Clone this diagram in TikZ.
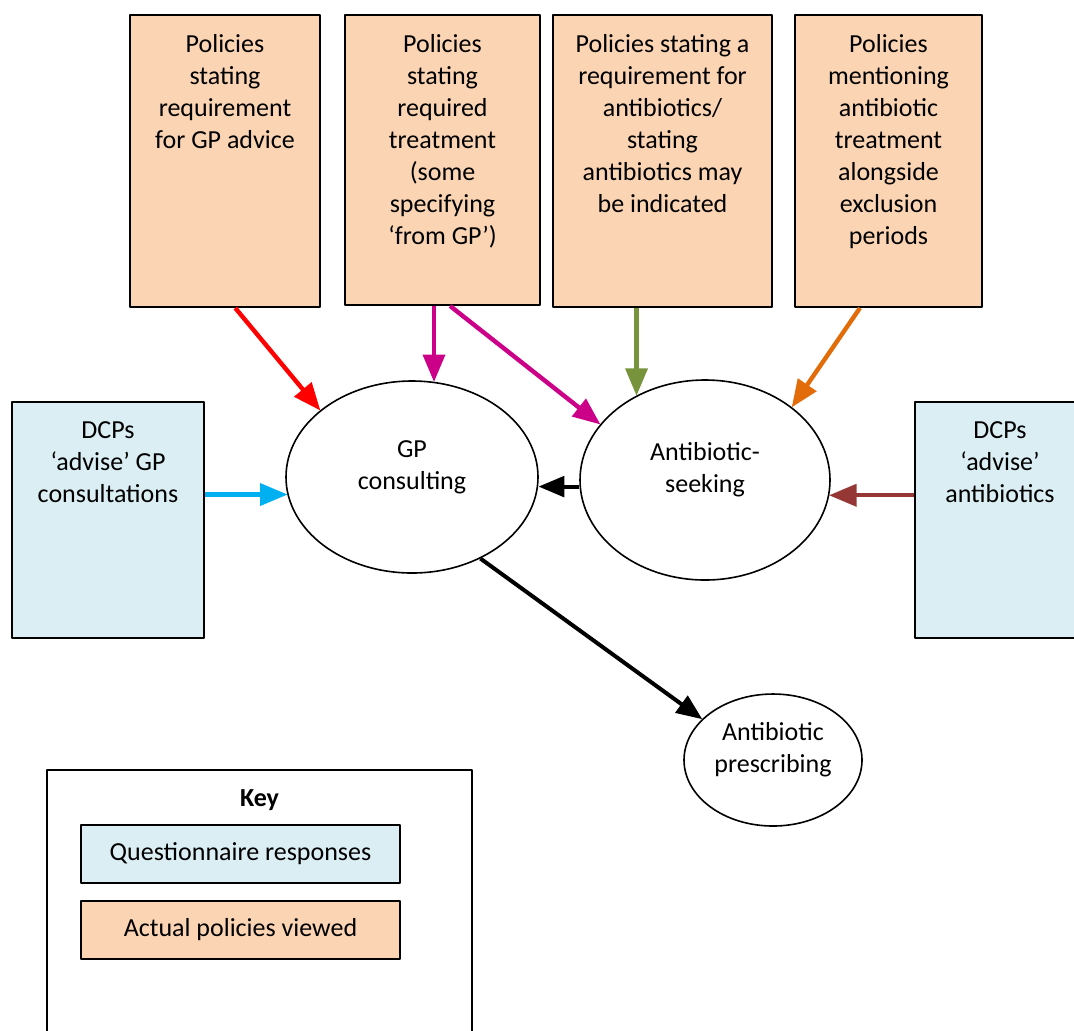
\documentclass[tikz,border=0pt]{standalone}
\usepackage{fontspec}
\setmainfont{Carlito}
\usepackage{tikz}
\usetikzlibrary{arrows,shapes.geometric}

\definecolor{policyfill}{HTML}{FBD4B4}
\definecolor{dcpfill}{HTML}{DAEEF3}
\definecolor{redarrow}{HTML}{FF0000}
\definecolor{pinkarrow}{HTML}{CC0088}
\definecolor{greenarrow}{HTML}{77933C}
\definecolor{orangearrow}{HTML}{E36C0A}
\definecolor{bluearrow}{HTML}{00B0F0}
\definecolor{brownarrow}{HTML}{953735}

\begin{document}
\begin{tikzpicture}[x=0.5pt,y=-0.5pt,>=triangle 45,line join=round,
  font=\fontsize{13}{16}\selectfont,
  policy/.style={draw,line width=1pt,fill=policyfill,inner sep=0pt},
  dcp/.style={draw,line width=1pt,fill=dcpfill,inner sep=0pt},
  bubble/.style={draw,ellipse,line width=0.8pt,inner sep=0pt},
  toptext/.style={anchor=north,align=center,inner sep=0pt,yshift=-10pt},
  midtext/.style={align=center,inner sep=0pt,yshift=5pt},
  link/.style={->,line width=2.2pt}]
\clip (0,0) rectangle (1074,1030);

% policies that were viewed
\node[policy,minimum width=95pt,minimum height=146pt,
  label={[toptext]north:Policies\\stating\\requirement\\for GP advice}] (pone) at (225,161) {};
\node[policy,minimum width=97.5pt,minimum height=145pt,
  label={[toptext]north:Policies\\stating\\required\\treatment\\(some\\specifying\\‘from GP’)}] (ptwo) at (442.5,160) {};
\node[policy,minimum width=109.5pt,minimum height=146pt,
  label={[toptext]north:Policies stating a\\requirement for\\antibiotics/\\stating\\antibiotics may\\be indicated}] (pthree) at (662.5,161) {};
\node[policy,minimum width=93.5pt,minimum height=146pt,
  label={[toptext]north:Policies\\mentioning\\antibiotic\\treatment\\alongside\\exclusion\\periods}] (pfour) at (888.5,161) {};

% questionnaire answers
\node[dcp,minimum width=96pt,minimum height=118pt,
  label={[toptext]north:DCPs\\‘advise’ GP\\consultations}] (done) at (108,520) {};
\node[dcp,minimum width=85pt,minimum height=118pt,
  label={[toptext]north:DCPs\\‘advise’\\antibiotics}] (dtwo) at (1000,520) {};

% behaviours
\node[bubble,minimum width=126pt,minimum height=96pt,
  label={[midtext]center:GP\\consulting}] (gp) at (412,477) {};
\node[bubble,minimum width=125pt,minimum height=100pt,
  label={[midtext]center:Antibiotic-\\seeking}] (seek) at (705,480) {};
\node[bubble,minimum width=89pt,minimum height=66pt,
  label={[midtext]center:Antibiotic\\prescribing}] (presc) at (773,760) {};

% key
\node[draw,line width=1pt,minimum width=212.5pt,minimum height=135pt,inner sep=0pt,
  label={[toptext]north:\textbf{Key}}] (key) at (259.5,905) {};
\node[dcp,minimum width=159.5pt,minimum height=29pt] (kq) at (240.5,854) {Questionnaire responses};
\node[policy,minimum width=159.5pt,minimum height=29pt] (ka) at (240.5,930) {Actual policies viewed};

% links
\draw[link,redarrow] (pone.-86) -- (gp.144);
\draw[link,pinkarrow] (gp.77 |- ptwo.south) -- (gp.77);
\draw[link,pinkarrow] (ptwo.-87) -- (seek.152);
\draw[link,greenarrow] (seek.129 |- pthree.south) -- (seek.129);
\draw[link,orangearrow] (pfour.-101) -- (seek.40);
\draw[link,bluearrow] (gp.188 -| done.east) -- (gp.188);
\draw[link,brownarrow] (seek.353 -| dtwo.west) -- (seek.353);
\draw[link,black,line width=2pt] (seek.183) -- (seek.183 -| gp.east);
\draw[link,black,line width=2pt] (gp.-50) -- (presc.150);

\end{tikzpicture}
\end{document}
